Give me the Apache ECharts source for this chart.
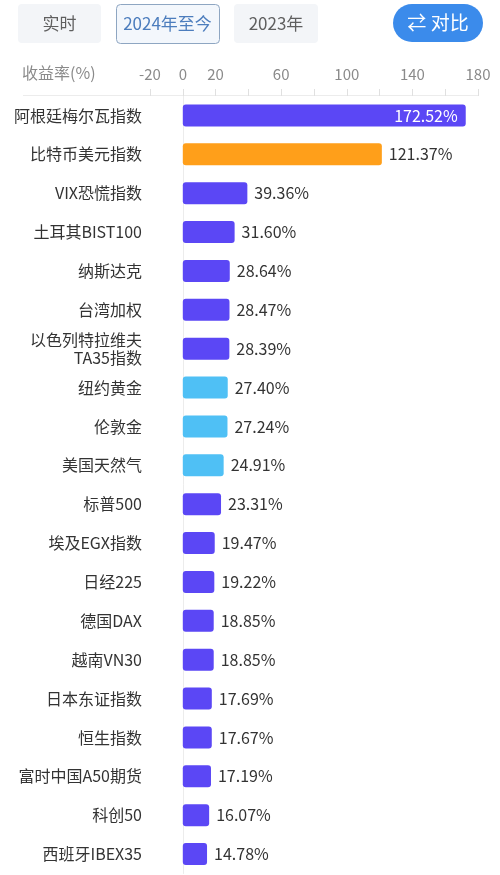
<!DOCTYPE html>
<html>
<head>
<meta charset="utf-8">
<script src="https://cdn.jsdelivr.net/npm/echarts@6/dist/echarts.min.js"></script>
<style>
html,body{margin:0;padding:0;background:#fff;}
#chart{width:500px;height:875px;}
</style>
</head>
<body>
<div id="chart"></div>
<script>
const categories = ['阿根廷梅尔瓦指数','比特币美元指数','VIX恐慌指数','土耳其BIST100','纳斯达克','台湾加权','以色列特拉维夫\nTA35指数','纽约黄金','伦敦金','美国天然气','标普500','埃及EGX指数','日经225','德国DAX','越南VN30','日本东证指数','恒生指数','富时中国A50期货','科创50','西班牙IBEX35'];
const values = [172.52,121.37,39.36,31.60,28.64,28.47,28.39,27.40,27.24,24.91,23.31,19.47,19.22,18.85,18.85,17.69,17.67,17.19,16.07,14.78];
const groups = ['index','crypto','index','index','index','index','index','commodity','commodity','commodity','index','index','index','index','index','index','index','index','index','index'];
const tickLabels = [-20,0,20,60,100,140,180];
const buttons = ['实时','2024年至今','2023年'];
const axisName = '收益率(%)';

const groupColors = {index:'#5B47F5', crypto:'#FF9F1A', commodity:'#4FC0F5'};
const FONT = '"Noto Sans CJK SC","Noto Sans",sans-serif';

const chart = echarts.init(document.getElementById('chart'), null, {renderer:'canvas'});

const seriesData = values.map((v,i)=>{
  const d = {value:v, itemStyle:{color:groupColors[groups[i]]}};
  if (i === 0) d.label = {position:'insideRight', color:'#fff', distance:8};
  return d;
});

const btnGeo = [
  {x:18,w:83},{x:116,w:103},{x:234,w:84}
];
const graphics = [];
buttons.forEach((t,i)=>{
  const active = i===1;
  graphics.push({
    type:'rect', left:btnGeo[i].x, top:4,
    shape:{width:btnGeo[i].w, height:39, r:4},
    style:{fill: active ? '#f3f7fc' : '#f3f5f8', stroke: active ? '#8ea6c2' : null, lineWidth: active?1:0}
  });
  graphics.push({
    type:'text', x:btnGeo[i].x + btnGeo[i].w/2, y:23.5,
    style:{text:t, fill: active ? '#4c7dbd' : '#5f5f5f', font:'17px '+FONT, align:'center', verticalAlign:'middle'}
  });
});
graphics.push({
  type:'rect', left:393, top:4, shape:{width:90, height:38, r:19},
  style:{fill:'#3b8beb'}
});
graphics.push({
  type:'text', x:438, y:23,
  style:{text:'⇄ 对比', fill:'#fff', font:'19px '+FONT, align:'center', verticalAlign:'middle'}
});
graphics.push({
  type:'text', x:22, y:73,
  style:{text:axisName, fill:'#8a8a8a', font:'16px '+FONT, align:'left', verticalAlign:'middle'}
});
graphics.push({
  type:'line', shape:{x1:23, y1:95.5, x2:478, y2:95.5},
  style:{stroke:'#ececec', lineWidth:1}, z:-1
});

chart.setOption({
  backgroundColor:'#fff',
  animation:false,
  textStyle:{fontFamily:FONT},
  grid:{left:150, right:22, top:96, bottom:1.5, containLabel:false, outerBoundsMode:'none'},
  xAxis:{
    type:'value', position:'top', min:-20, max:180, interval:20,
    axisLine:{show:false},
    axisTick:{show:true, length:7, lineStyle:{color:'#e0e0e0'}},
    splitLine:{show:false},
    axisLabel:{
      fontSize:15, color:'#8a8a8a', margin:14, fontFamily:FONT,
      formatter:(v)=> tickLabels.includes(v) ? String(v) : ''
    }
  },
  yAxis:{
    type:'category', inverse:true, data:categories,
    axisLine:{show:true, onZero:true, lineStyle:{color:'#ececec'}},
    axisTick:{show:false},
    axisLabel:{fontSize:16, color:'#333', margin:8, lineHeight:18, fontFamily:FONT, align:'right'}
  },
  series:[{
    type:'bar', data:seriesData, barWidth:22,
    itemStyle:{borderRadius:3},
    label:{show:true, position:'right', distance:7, fontSize:16, color:'#333', fontFamily:FONT,
      formatter:(p)=> p.value.toFixed(2)+'%'}
  }],
  graphic:graphics
});
</script>
</body>
</html>
